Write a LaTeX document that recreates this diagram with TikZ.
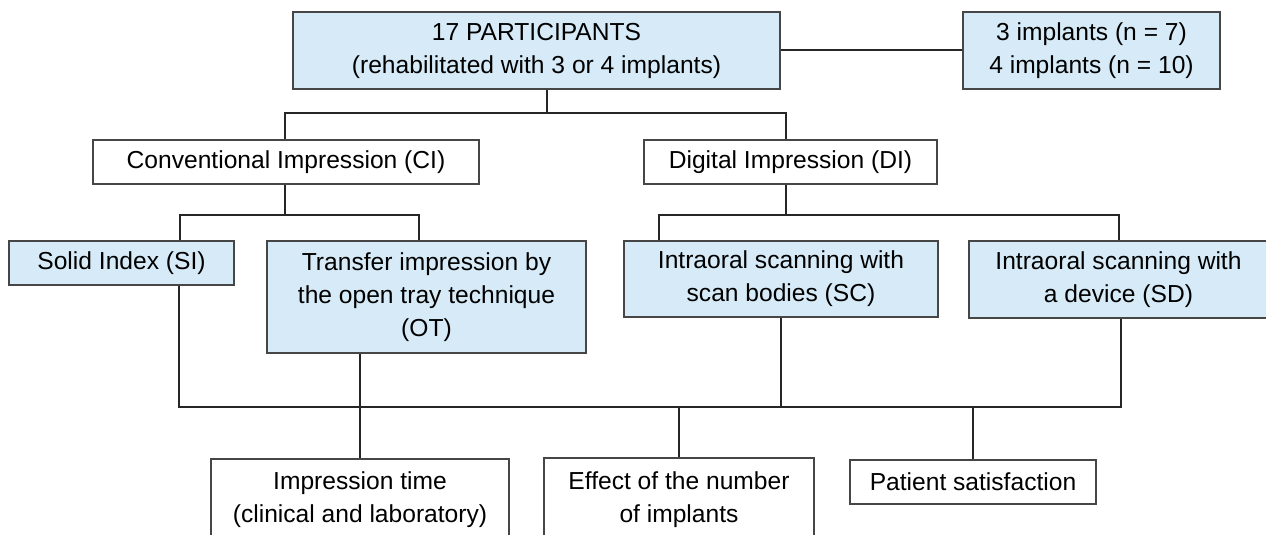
\documentclass[tikz,border=0pt]{standalone}
\usepackage{fontspec}
\setmainfont{Liberation Sans}
\definecolor{boxblue}{RGB}{214,235,247}
\definecolor{edgegray}{RGB}{70,70,70}
\begin{document}
\begin{tikzpicture}[x=0.5pt,y=-0.5pt,
    box/.style={draw=edgegray,line width=0.75pt,inner sep=0pt,align=center,
      font=\fontsize{12.3}{16.5}\selectfont},
    bluebox/.style={box,fill=boxblue},
    conn/.style={line width=1pt,black!85}]
        \useasboundingbox (0,0) rectangle (1266,535);
        \clip (0,0) rectangle (1266,535);
        \node[bluebox,minimum width=243.5pt,minimum height=38.5pt] (top) at (536.5,50.5) {17 PARTICIPANTS\\(rehabilitated with 3 or 4 implants)};
        \node[bluebox,minimum width=128.5pt,minimum height=38.5pt] (impl) at (1091.5,50.5) {3 implants (n = 7)\\4 implants (n = 10)};
        \node[box,minimum width=193pt,minimum height=22pt] (ci) at (286,162) {Conventional Impression (CI)};
        \node[box,minimum width=146.5pt,minimum height=22pt] (di) at (790.5,162) {Digital Impression (DI)};
        \node[bluebox,minimum width=112.5pt,minimum height=22pt] (si) at (121.5,263) {Solid Index (SI)};
        \node[bluebox,minimum width=159.5pt,minimum height=56pt] (ot) at (426.5,297) {Transfer impression by\\the open tray technique\\(OT)};
        \node[bluebox,minimum width=157pt,minimum height=38pt] (sc) at (781,279) {Intraoral scanning with\\scan bodies (SC)};
        \node[bluebox,minimum width=149.5pt,minimum height=38.5pt] (sd) at (1118.5,279.5) {Intraoral scanning with\\a device (SD)};
        \node[box,minimum width=149pt,minimum height=41pt] (it) at (360,500) {Impression time\\(clinical and laboratory)};
        \node[box,minimum width=135pt,minimum height=41.5pt] (eff) at (679,499.5) {Effect of the number\\of implants};
        \node[box,minimum width=123pt,minimum height=22pt] (pat) at (973,482) {Patient satisfaction};
        \coordinate (j1) at (547,113);
        \coordinate (b1l) at (285,113);
        \coordinate (b1r) at (786,113);
        \coordinate (b2l) at (180,215);
        \coordinate (b2m) at (285,215);
        \coordinate (b2r) at (419,215);
        \coordinate (b3l) at (659,215);
        \coordinate (b3m) at (786,215);
        \coordinate (b3r) at (1119,215);
        \coordinate (b4l) at (179,407);
        \coordinate (b4r) at (1121,407);
        \draw[conn] (top.east) -- (impl.west);
        \draw[conn] (top.south -| j1) -- (j1);
        \draw[conn] (ci.north -| b1l) -- (b1l) -- (b1r) -- (di.north -| b1r);
        \draw[conn] (ci.south -| b2m) -- (b2m);
        \draw[conn] (si.north -| b2l) -- (b2l) -- (b2r) -- (ot.north -| b2r);
        \draw[conn] (di.south -| b3m) -- (b3m);
        \draw[conn] (sc.north -| b3l) -- (b3l) -- (b3r) -- (sd.north -| b3r);
        \draw[conn] (si.south -| b4l) -- (b4l) -- (b4r) -- (sd.south -| b4r);
        \draw[conn] (sc.south) -- (sc.south |- b4l);
        \draw[conn] (ot.south -| it.north) -- (it.north);
        \draw[conn] (eff.north |- b4l) -- (eff.north);
        \draw[conn] (pat.north |- b4l) -- (pat.north);
      \end{tikzpicture}
\end{document}
